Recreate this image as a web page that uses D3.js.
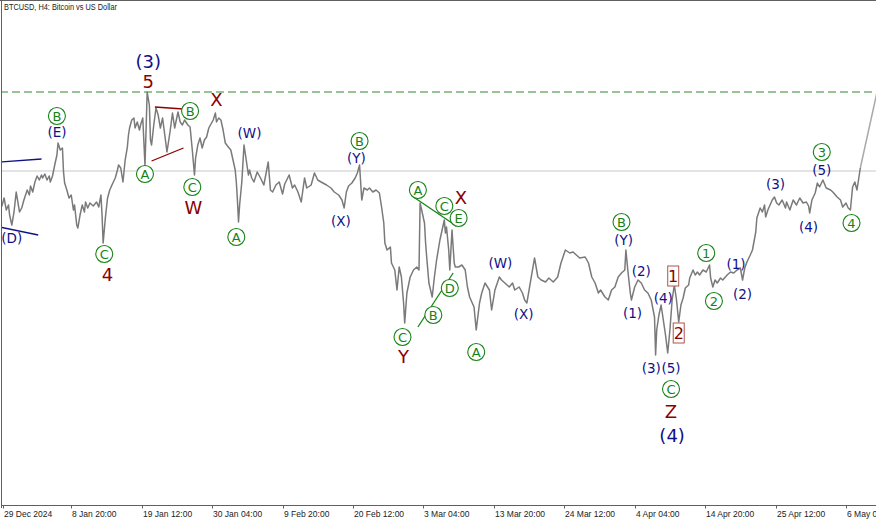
<!DOCTYPE html>
<html><head><meta charset="utf-8">
<script src="https://cdn.jsdelivr.net/npm/d3@7"></script>
<style>html,body{margin:0;padding:0;background:#fff;overflow:hidden}svg{display:block}</style>
</head><body>
<svg id="c" width="876" height="521"></svg>
<script>
// ---- DATA ----
const title = "BTCUSD, H4:  Bitcoin vs US Dollar";
const firstBar = Date.UTC(2024, 11, 29, 12, 0); // bar index 0, H4 bars
const tickBars = [0, 62, 126, 190, 254, 318, 382, 446, 510, 574, 638, 702, 766];
const tickLabels = ["29 Dec 2024","8 Jan 20:00","19 Jan 12:00","30 Jan 04:00","9 Feb 20:00","20 Feb 12:00","3 Mar 04:00","13 Mar 20:00","24 Mar 12:00","4 Apr 04:00","14 Apr 20:00","25 Apr 12:00","6 May 04:00"];
// [bar index, price]
const price = [[-3,94960],[-1,94180],[1,95220],[3,93660],[5,94310],[6,93010],[8,91710],[10,93400],[12,96000],[14,94310],[15,93400],[17,93920],[19,94960],[22,96260],[24,95610],[25,96780],[27,96000],[29,97300],[31,98080],[33,97560],[35,98210],[36,97820],[38,98340],[40,97560],[42,98080],[43,97300],[45,98080],[47,99510],[49,100810],[50,102370],[52,101460],[54,101720],[55,98600],[56,97170],[58,96260],[60,95220],[62,95610],[64,93660],[65,94310],[67,91710],[68,91320],[70,93010],[72,94310],[74,93400],[75,94700],[77,93920],[79,94570],[82,94180],[85,94700],[87,94050],[89,95610],[90,93010],[91,89370],[93,92620],[95,95220],[97,96260],[99,96910],[102,97820],[104,98860],[105,99510],[107,99120],[109,97300],[111,100160],[113,101850],[114,103410],[115,104320],[117,105360],[119,105620],[120,104320],[122,105100],[124,104060],[125,104710],[127,105620],[129,99510],[130,104060],[131,109000],[133,107310],[134,102760],[135,102110],[137,104710],[139,106920],[141,106010],[143,104320],[145,105620],[147,103410],[149,101200],[152,104060],[154,106270],[156,104320],[159,106400],
[161,105100],[163,104710],[165,105360],[168,104710],[170,104450],[172,101460],[174,98210],[175,100420],[177,102110],[179,103020],[181,101720],[183,102760],[185,103150],[187,104320],[189,104840],[191,105360],[193,106270],[194,105100],[196,105620],[198,105360],[200,104060],[202,102370],[204,101980],[207,101460],[209,100160],[211,98860],[212,97300],[213,94960],[214,92100],[215,94310],[217,97300],[219,102110],[221,100160],[223,98210],[224,98860],[226,97820],[228,97300],[231,98600],[234,97820],[237,96910],[241,99900],[243,96260],[245,96000],[248,96910],[251,97300],[254,95740],[256,97040],[260,98210],[263,96520],[265,96910],[268,96000],[271,94700],[274,97820],[276,96520],[280,96910],[283,98470],[286,97560],[289,97300],[294,96910],[298,96520],[301,96000],[305,95610],[308,94960],[310,93920],[312,96000],[314,96780],[317,97170],
[320,97820],[322,98470],[324,99510],[326,94960],[328,96520],[331,96260],[333,96520],[336,96000],[339,96260],[342,95870],[344,94050],[346,91970],[347,89370],[349,88460],[352,88850],[353,86770],[356,85860],[358,83260],[360,86250],[362,84950],[364,81570],[365,78970],[367,82870],[370,84950],[373,85860],[376,86250],[378,85860],[379,94570],[381,93270],[383,91970],[384,89370],[385,87550],[387,84170],[390,82350],[392,84950],[394,87160],[397,89760],[399,91060],[401,92360],[402,90670],[403,91450],[405,88460],[406,85860],[408,91060],[410,86770],[411,86250],[414,86250],[417,86510],[420,85860],[422,83650],[424,82350],[428,81050],[430,78060],[433,81570],[435,82870],[438,84170],[442,83260],[444,80660],[447,83260],[451,84950],[453,84560],[456,84170],[460,83650],[463,84170],[465,83260],[469,83650],[472,82870],[474,81960],[476,81570],
[480,84950],[483,87420],[486,84950],[489,84560],[493,84300],[496,84820],[500,84300],[504,84950],[507,86770],[511,88460],[515,88070],[518,88200],[521,87810],[524,87420],[529,87550],[532,86770],[535,84950],[538,84170],[541,82870],[543,83260],[547,82350],[550,81960],[553,83260],[556,83650],[559,84950],[562,85470],[565,85860],[566,88460],[568,85470],[570,82870],[571,81960],[574,83650],[577,84560],[580,84170],[583,83260],[586,82870],[589,81960],[592,79750],[593,74810],[594,78060],[596,80010],[598,81310],[600,79360],[602,77410],[604,75070],[606,78060],[608,81960],[610,83910],[612,81960],[614,79100],[616,81310],[618,82220],[620,83520],[623,83910],[624,84820],[627,85860],[629,85210],[631,85600],[633,85210],[636,85860],[639,85600],[642,86510],[643,84820],[645,83650],[647,84560],[649,84170],[652,84820],[654,84560],[658,85210],[661,85600],[664,85470],[667,85860],[670,86120],[672,84560],[674,86120],[676,86900],[679,87810],[681,88460],[683,90020],[684,90800],[685,92620],[688,93920],[690,93400],[692,94310],[693,92750],[695,93660],[697,94310],[699,94960],[701,95350],[703,94570],[705,94310],[708,94960],[711,93920],[712,94700],[715,93660],[718,94960],[721,94310],[724,95220],[727,94570],[730,94700],[732,94180],[733,93270],[735,94960],[738,95870],[740,97170],[742,96650],[745,97560],[748,96520],[752,96260],[754,96000],[758,95350],[761,94960],[763,94050],[766,94570],[768,93920],[770,93660],[772,96650],[774,97300],[776,96260],[779,99120]];
const lastMove = [[779,99120],[795,109520]];
const highLevel = 109000;   // dashed green level
const currentLevel = 98730; // grey horizontal line
// trend lines: [i1,p1,i2,p2,colorKey]
const trendLines = [
  [-3,99900,35,100290,"navy"],[-3,91450,32,90410,"navy"],
  [138,107050,164,106790,"red"],[135,100030,164,101720,"red"],
  [373,95350,412,91580,"green"],[377,78450,409,85470,"green"]
];
// wave labels: [text, kind, bar index, price]  kinds: c=circled green, n=navy, N=navy big, r=red big, b=boxed red
const waveLabels = [
  ["(3)","N",132,112900],["5","r",132,110300],["X","r",194,107960],["B","c",170,106530],
  ["B","c",49,105880],["(E)","n",49,103800],["A","c",129,98340],["C","c",172,96650],["W","r",173,93920],
  ["(W)","n",224,103670],["A","c",212,90150],["C","c",92,87940],["4","r",95,85210],["(D)","n",8,90020],
  ["B","c",324,102630],["(Y)","n",321,100420],["(X)","n",307,92230],
  ["A","c",377,96260],["X","r",416,95220],["C","c",401,94180],["E","c",414,92620],["D","c",406,83520],
  ["B","c",391,80010],["C","c",363,77150],["Y","r",364,74550],["A","c",430,75200],
  ["(W)","n",452,86770],["(X)","n",473,80140],["B","c",562,92100],["(Y)","n",564,89760],
  ["(2)","n",580,85730],["(1)","n",572,80270],["(4)","n",600,82220],["(3)","n",589,73120],["(5)","n",607,73120],
  ["1","b",609,85080],["2","b",614,77670],["C","c",607,70390],["Z","r",607,67400],["(4)","N",608,64280],
  ["1","c",639,88070],["2","c",646,81830],["(1)","n",666,86640],["(2)","n",672,82740],
  ["(3)","n",702,97040],["(4)","n",732,91450],["(5)","n",744,98860],["3","c",744,101200],["4","c",771,91970]
];

// ---- CHART ----
const W = 876, H = 521, axisY = 505.5;
const colors = {green:"#178317", navy:"#101088", red:"#8b0000"};
const barDate = i => new Date(firstBar + i * 4 * 3600 * 1000);
const x = d3.scaleTime().domain([barDate(0), barDate(766)]).range([3, 846]);
const y = d3.scaleLinear().domain([70000, 110000]).range([392, 84.31]);
const svg = d3.select("#c");

svg.append("defs").append("clipPath").attr("id","plot")
  .append("rect").attr("x",2).attr("y",1).attr("width",W).attr("height",axisY-1);
const plot = svg.append("g").attr("clip-path","url(#plot)");

plot.append("line").attr("x1",0).attr("x2",W).attr("y1",y(currentLevel)).attr("y2",y(currentLevel))
  .attr("stroke","#c8c8c8").attr("stroke-width",1);
plot.append("line").attr("x1",0).attr("x2",W).attr("y1",y(highLevel)).attr("y2",y(highLevel))
  .attr("stroke","#2f8a2f").attr("stroke-width",1).attr("stroke-dasharray","8,4");

const line = d3.line().x(d => x(barDate(d[0]))).y(d => y(d[1]));
plot.append("path").datum(price).attr("d", line).attr("fill","none")
  .attr("stroke","#7a7a7a").attr("stroke-width",1.5).attr("stroke-linejoin","round");
plot.append("path").datum(lastMove).attr("d", line).attr("fill","none")
  .attr("stroke","#a9a9a9").attr("stroke-width",1.5);

trendLines.forEach(t => {
  plot.append("line").attr("x1",x(barDate(t[0]))).attr("y1",y(t[1]))
    .attr("x2",x(barDate(t[2]))).attr("y2",y(t[3]))
    .attr("stroke",colors[t[4]]).attr("stroke-width",1.3);
});

const lf = "'DejaVu Sans', sans-serif";
waveLabels.forEach(l => {
  const cx = x(barDate(l[2])), cy = y(l[3]);
  const g = plot.append("g");
  if (l[1] === "c") {
    g.append("circle").attr("cx",cx).attr("cy",cy).attr("r",8.5)
      .attr("fill","#fff").attr("stroke",colors.green).attr("stroke-width",1.1);
    g.append("text").attr("x",cx).attr("y",cy+4.8).attr("text-anchor","middle")
      .attr("font-family",lf).attr("font-size",13).attr("fill",colors.green).text(l[0]);
  } else if (l[1] === "b") {
    g.append("rect").attr("x",cx-5.5).attr("y",cy-10).attr("width",11).attr("height",20)
      .attr("fill","#fff").attr("stroke","#b0544c").attr("stroke-width",1);
    g.append("text").attr("x",cx).attr("y",cy+6).attr("text-anchor","middle")
      .attr("font-family",lf).attr("font-size",16).attr("fill",colors.red).text(l[0]);
  } else {
    const big = l[1] === "N" || l[1] === "r";
    const fs = big ? 18 : 13.5;
    const col = l[1] === "r" ? colors.red : colors.navy;
    g.append("text").attr("x",cx).attr("y",cy+fs*0.36).attr("text-anchor","middle")
      .attr("font-family",lf).attr("font-size",fs).attr("fill",col).text(l[0]);
  }
});

// frame
svg.append("line").attr("x1",0).attr("x2",W).attr("y1",0.5).attr("y2",0.5).attr("stroke","#606060");
svg.append("line").attr("x1",1.5).attr("x2",1.5).attr("y1",0).attr("y2",508).attr("stroke","#606060");
svg.append("line").attr("x1",1).attr("x2",W).attr("y1",axisY).attr("y2",axisY).attr("stroke","#606060");

// axis ticks & labels
tickBars.forEach((b, k) => {
  const tx = Math.round(x(barDate(b))) + 0.5;
  svg.append("line").attr("x1",tx).attr("x2",tx).attr("y1",axisY).attr("y2",axisY+3).attr("stroke","#606060");
  svg.append("text").attr("x",tx+0.5).attr("y",516.5).attr("font-family","'Liberation Sans', Arial, sans-serif")
    .attr("font-size",8.5).attr("fill","#222").text(tickLabels[k]);
});

svg.append("text").attr("x",4).attr("y",10).attr("font-family","'Liberation Sans', Arial, sans-serif")
  .attr("font-size",8.5).attr("fill","#222").attr("textLength",113).attr("lengthAdjust","spacingAndGlyphs").text(title);
</script>
</body></html>
